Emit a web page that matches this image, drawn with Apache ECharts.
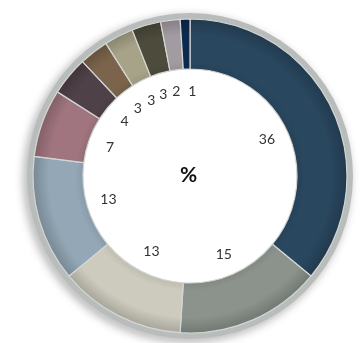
<!DOCTYPE html>
<html>
<head>
<meta charset="utf-8">
<script src="https://cdn.jsdelivr.net/npm/echarts@6/dist/echarts.min.js"></script>
<style>
  html, body { margin: 0; padding: 0; background: #fff; }
  #chart { width: 363px; height: 343px; }
</style>
</head>
<body>
<div id="chart"></div>
<script>
// Share of each group, clockwise from 12 o'clock
const categories = ['A', 'B', 'C', 'D', 'E', 'F', 'G', 'H', 'I', 'J', 'K'];
const shares = [36, 15, 13, 13, 7, 4, 3, 3, 3, 2, 1];
const palette = ['#29475f', '#8b938c', '#cdcbbd', '#93a7b6', '#a0757f', '#4f4148',
                 '#7b644b', '#a7a388', '#4c4b3c', '#a29ba2', '#0c2a4f'];

const CX = 190, CY = 176, R_IN = 107, R_OUT = 157;

function shade(hex, f) {
  const n = parseInt(hex.slice(1), 16);
  const r = Math.round(((n >> 16) & 255) * f);
  const g = Math.round(((n >> 8) & 255) * f);
  const b = Math.round((n & 255) * f);
  return `rgb(${r},${g},${b})`;
}

function ringFill(hex) {
  const a = R_IN / R_OUT;
  return {
    type: 'radial', x: CX, y: CY, r: R_OUT, global: true,
    colorStops: [
      { offset: 0, color: hex },
      { offset: a, color: shade(hex, 0.93) },
      { offset: a + 0.05, color: hex },
      { offset: 0.9, color: hex },
      { offset: 1, color: shade(hex, 0.82) }
    ]
  };
}

const ringData = categories.map((c, i) => ({
  name: c, value: shares[i],
  itemStyle: { color: ringFill(palette[i]) }
}));

// the narrow slices crowd together near the top; uneven padding
// nudges their labels apart so they do not run together
const labelPad = { I: [0, 6, 0, 0], J: [0, 6, 0, 0], K: [0, 0, 0, 10] };

const chart = echarts.init(document.getElementById('chart'), null, { renderer: 'canvas' });
chart.setOption({
  animation: false,
  series: [
    {
      // grey bezel around the ring
      type: 'pie', silent: true, center: [CX, CY], radius: [R_OUT - 2, R_OUT + 6],
      startAngle: 90, clockwise: true,
      label: { show: false },
      itemStyle: {
        color: '#b8bdbb',
        shadowBlur: 10, shadowOffsetX: -3, shadowOffsetY: 3,
        shadowColor: 'rgba(0,0,0,0.35)'
      },
      data: [{ value: 1 }]
    },
    {
      type: 'pie', silent: true, center: [CX, CY], radius: [R_IN, R_OUT],
      startAngle: 90, clockwise: true,
      label: { show: false },
      itemStyle: { borderColor: '#d4d6d4', borderWidth: 1.2 },
      data: ringData
    },
    {
      // value labels set inside the hole
      type: 'pie', silent: true, center: [CX, CY], radius: [0, 164],
      startAngle: 90, clockwise: true,
      avoidLabelOverlap: false,
      labelLayout: { hideOverlap: false },
      itemStyle: { color: 'rgba(0,0,0,0)' },
      label: {
        show: true, position: 'inner', formatter: '{c}',
        color: '#333', fontSize: 14, fontFamily: 'Lato'
      },
      labelLine: { show: false },
      data: categories.map((c, i) => ({
        name: c, value: shares[i],
        label: labelPad[c] ? { padding: labelPad[c] } : {}
      }))
    }
  ],
  graphic: [{
    type: 'text', left: CX - 10, top: CY - 11,
    style: { text: '%', fill: '#111', font: 'bold 21px Lato' }
  }]
});
</script>
</body>
</html>
